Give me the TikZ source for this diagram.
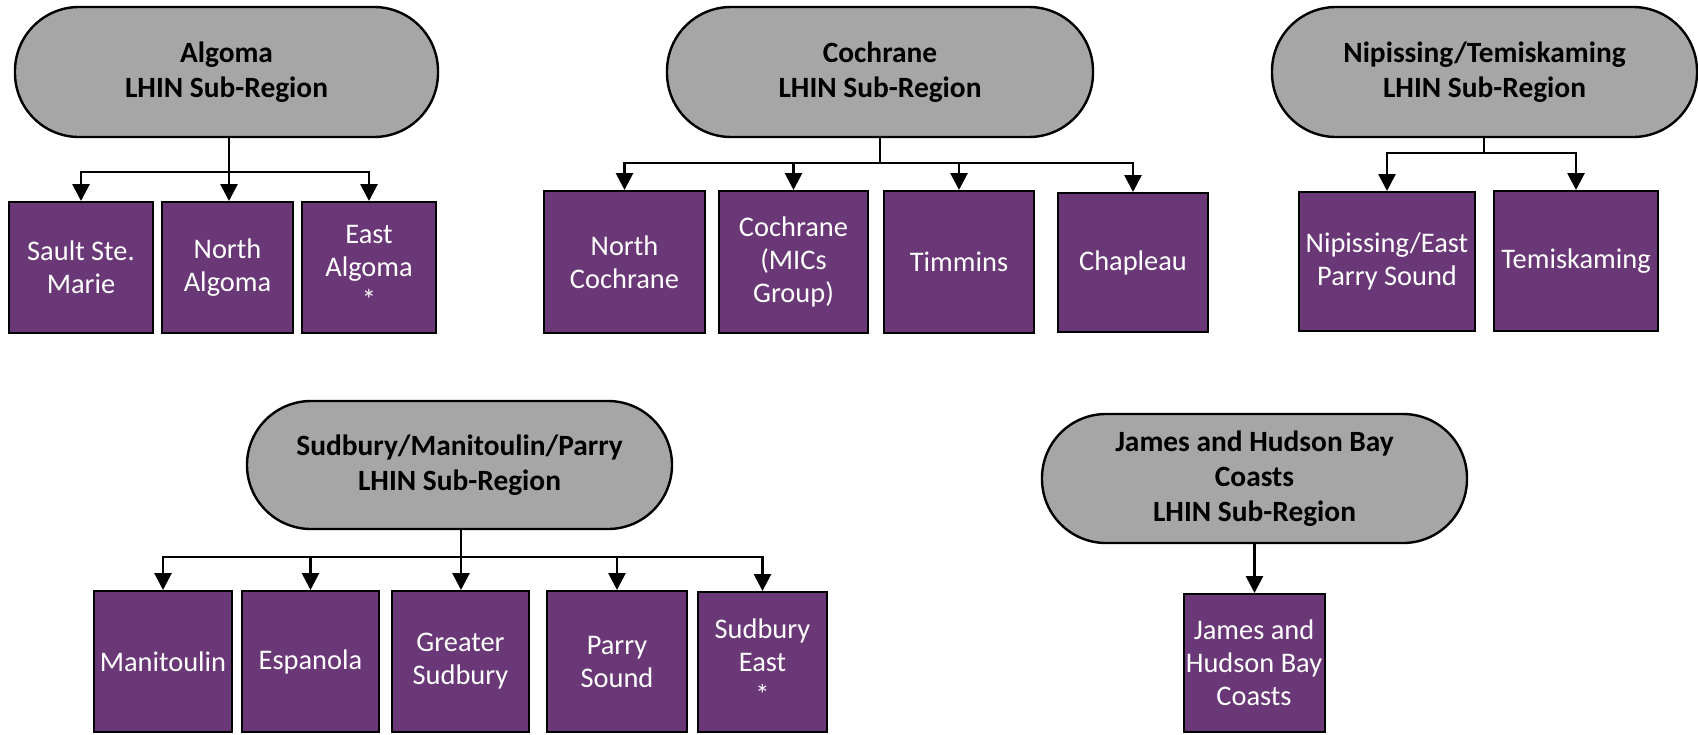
\documentclass[tikz,border=0pt]{standalone}
\usepackage{fontspec}
\setmainfont{Carlito}
\usetikzlibrary{arrows.meta}
\definecolor{pillgray}{RGB}{166,166,166}
\definecolor{leafpurple}{RGB}{106,56,119}
\tikzset{
  pill/.style={draw=black, line width=1.2pt, fill=pillgray, rectangle, rounded corners=32pt,
    inner sep=0pt, align=center, text=black,
    font=\fontsize{14.7pt}{17.5pt}\selectfont\bfseries},
  leaf/.style={draw=black, line width=1pt, fill=leafpurple, rectangle, inner sep=0pt,
    align=center, text=white, font=\fontsize{14.2pt}{16.5pt}\selectfont},
  conn/.style={draw=black, line width=1.4pt},
  arr/.style={conn, -{Triangle[length=8.5pt,width=8.5pt]}}
}
\begin{document}
\begin{tikzpicture}[x=0.5pt,y=-0.5pt]
\useasboundingbox (0,0) rectangle (1698,734);

% ---------- Algoma ----------
\node[pill, minimum width=211.5pt, minimum height=65pt] (algoma) at (226.5,72) {Algoma\\LHIN Sub-Region};
\node[leaf, minimum width=72pt, minimum height=65.5pt] (sault) at (81,267.5) {Sault Ste.\\Marie};
\node[leaf, minimum width=65.5pt, minimum height=65.5pt] (nalg) at (227.5,267.5) {North\\Algoma};
\node[leaf, minimum width=67pt, minimum height=65.5pt] (ealg) at (369,267.5) {East\\Algoma\\*};
\coordinate (aj) at (229,172);
\draw[conn] (algoma.south -| aj) -- (aj);
\draw[arr] (aj) -| (sault.north);
\draw[arr] (aj) -- (aj |- nalg.north);
\draw[arr] (aj) -| (ealg.north);

% ---------- Cochrane ----------
\node[pill, minimum width=213pt, minimum height=65pt] (coch) at (880,72) {Cochrane\\LHIN Sub-Region};
\node[leaf, minimum width=80.5pt, minimum height=71pt] (ncoch) at (624.5,262) {North\\Cochrane};
\node[leaf, minimum width=74.5pt, minimum height=71pt] (mics) at (793.5,262) {Cochrane\\(MICs\\Group)};
\node[leaf, minimum width=75pt, minimum height=71pt] (timm) at (959,262) {Timmins};
\node[leaf, minimum width=75pt, minimum height=69.5pt] (chap) at (1133,262.5) {Chapleau};
\coordinate (cj) at (880,163);
\draw[conn] (coch.south -| cj) -- (cj);
\draw[arr] (cj) -| (ncoch.north);
\draw[arr] (cj) -| (mics.north);
\draw[arr] (cj) -| (timm.north);
\draw[arr] (cj) -| (chap.north);

% ---------- Nipissing/Temiskaming ----------
\node[pill, minimum width=212.5pt, minimum height=65pt] (nip) at (1484.5,72) {Nipissing/Temiskaming\\LHIN Sub-Region};
\node[leaf, minimum width=88pt, minimum height=69.5pt] (neps) at (1387,261.5) {Nipissing/East\\Parry Sound};
\node[leaf, minimum width=82pt, minimum height=70pt] (temis) at (1576,261) {Temiskaming};
\coordinate (nj) at (1484,153);
\draw[conn] (nip.south -| nj) -- (nj);
\draw[arr] (nj) -| (neps.north);
\draw[arr] (nj) -| (temis.north);

% ---------- Sudbury/Manitoulin/Parry ----------
\node[pill, minimum width=212.5pt, minimum height=64pt] (sud) at (459.5,465) {Sudbury/Manitoulin/Parry\\LHIN Sub-Region};
\node[leaf, minimum width=69pt, minimum height=70.5pt] (mani) at (163,661.5) {Manitoulin};
\node[leaf, minimum width=68.5pt, minimum height=70.5pt] (espa) at (310.5,661.5) {Espanola};
\node[leaf, minimum width=68.5pt, minimum height=70.5pt] (gsud) at (460.5,661.5) {Greater\\Sudbury};
\node[leaf, minimum width=70pt, minimum height=70.5pt] (psnd) at (617,661.5) {Parry\\Sound};
\node[leaf, minimum width=64.5pt, minimum height=70pt] (seast) at (762.5,662) {Sudbury\\East\\*};
\coordinate (sj) at (461,557);
\draw[conn] (sud.south -| sj) -- (sj);
\draw[arr] (sj) -| (mani.north);
\draw[arr] (sj) -| (espa.north);
\draw[arr] (sj) -- (sj |- gsud.north);
\draw[arr] (sj) -| (psnd.north);
\draw[arr] (sj) -| (seast.north);

% ---------- James and Hudson Bay Coasts ----------
\node[pill, minimum width=212.5pt, minimum height=64.5pt] (jhb) at (1254.5,478.5) {James and Hudson Bay\\Coasts\\LHIN Sub-Region};
\node[leaf, minimum width=70.5pt, minimum height=69pt] (jhbc) at (1254,663) {James and\\Hudson Bay\\Coasts};
\draw[arr] (jhb.south) -- (jhb.south |- jhbc.north);
\end{tikzpicture}
\end{document}
